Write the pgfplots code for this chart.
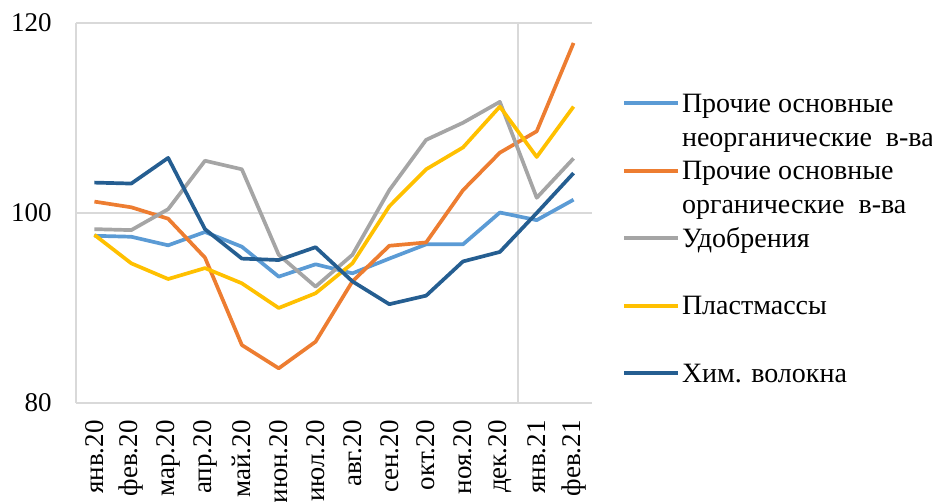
\documentclass[border=0pt]{standalone}
\usepackage{fontspec}
\setmainfont{Liberation Serif}
\usepackage{pgfplots}
\pgfplotsset{compat=1.18}
\definecolor{c1}{HTML}{5B9BD5}
\definecolor{c2}{HTML}{ED7D31}
\definecolor{c3}{HTML}{A5A5A5}
\definecolor{c4}{HTML}{FFC000}
\definecolor{c5}{HTML}{255E91}
\definecolor{gridc}{HTML}{D9D9D9}
\newcommand{\lgd}[2]{\smash{\parbox[t]{160pt}{#1\\#2}}}
\begin{document}
\fontsize{13.5}{17}\selectfont
\begin{tikzpicture}
\begin{axis}[
 name=ax,
 at={(0,0)}, anchor=south west,
 scale only axis, width=258pt, height=190pt,
 xmin=-0.5, xmax=13.5, ymin=80, ymax=120,
 ytick={80,100,120},
 xtick={0,...,13},
 xticklabels={янв.20,фев.20,мар.20,апр.20,май.20,июн.20,июл.20,авг.20,сен.20,окт.20,ноя.20,дек.20,янв.21,фев.21},
 xticklabel style={rotate=90, anchor=east, font=\fontsize{13.5}{17}\selectfont},
 yticklabel style={font=\fontsize{13.5}{17}\selectfont},
 xticklabel shift=4pt,
 yticklabel shift=7.5pt,
 /pgf/number format/assume math mode=true,
 major tick length=0pt,
 axis x line*=bottom, axis y line*=left,
 axis line style={gridc, line width=0.8pt, -},
 ymajorgrids,
 grid style={gridc, line width=0.8pt},
 extra x ticks={11.5}, extra x tick labels={},
 extra x tick style={grid=major, major tick length=0pt},
 every axis plot/.append style={line width=1.85pt, line join=round},
 legend image code/.code={\draw[#1] (0pt,4.5pt) -- (27pt,4.5pt);},
 legend cell align=left,
 legend style={at={(rel axis cs:1.058,0.829)}, anchor=north west, draw=none, inner sep=0pt,
   row sep=16.75pt, column sep=0pt, cells={anchor=base west},
   nodes={inner xsep=1pt, inner ysep=0pt, text height=11.9pt, text depth=5.1pt, font=\fontsize{14}{17}\selectfont}},
]
\addplot[c1] coordinates {(0,97.6)(1,97.5)(2,96.6)(3,98.0)(4,96.45)(5,93.3)(6,94.6)(7,93.65)(8,95.2)(9,96.7)(10,96.7)(11,100.05)(12,99.25)(13,101.4)};
\addlegendentry{\lgd{Прочие основные}{неорганические\ \ в-ва}}
\addplot[c2] coordinates {(0,101.2)(1,100.6)(2,99.4)(3,95.3)(4,86.1)(5,83.65)(6,86.45)(7,92.8)(8,96.55)(9,96.9)(10,102.4)(11,106.35)(12,108.6)(13,117.9)};
\addlegendentry{\lgd{Прочие основные}{органические\ \ в-ва}}
\addplot[c3] coordinates {(0,98.3)(1,98.2)(2,100.4)(3,105.5)(4,104.6)(5,95.6)(6,92.25)(7,95.6)(8,102.4)(9,107.7)(10,109.5)(11,111.7)(12,101.6)(13,105.75)};
\addlegendentry{Удобрения}
\addplot[c4] coordinates {(0,97.7)(1,94.7)(2,93.05)(3,94.2)(4,92.6)(5,90.0)(6,91.55)(7,94.7)(8,100.7)(9,104.6)(10,106.9)(11,111.2)(12,105.9)(13,111.2)};
\addlegendentry{Пластмассы}
\addplot[c5] coordinates {(0,103.2)(1,103.1)(2,105.8)(3,98.3)(4,95.2)(5,95.05)(6,96.4)(7,92.8)(8,90.4)(9,91.3)(10,94.9)(11,95.9)(12,100.0)(13,104.2)};
\addlegendentry{Хим. волокна}
\end{axis}
\pgfresetboundingbox
\path (ax.south west) ++(-38pt,-49.5pt) rectangle ++(466pt,251pt);
\end{tikzpicture}
\end{document}
